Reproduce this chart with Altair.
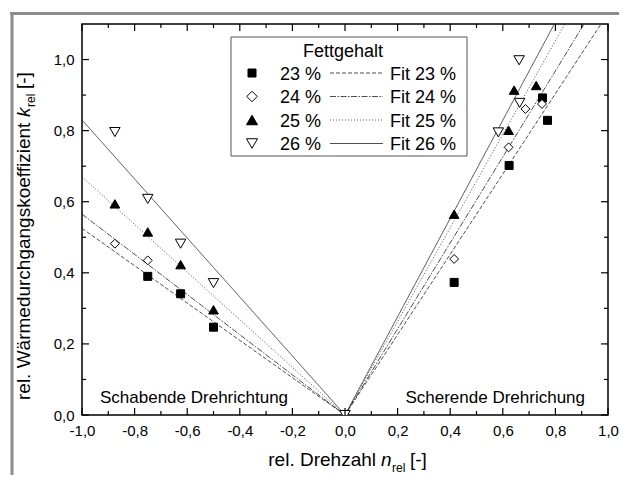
import altair as alt
import pandas as pd

FONT = "Liberation Sans"

series = ["23 %", "24 %", "25 %", "26 %"]
fit_labels = ["Fit 23 %", "Fit 24 %", "Fit 25 %", "Fit 26 %"]
shapes = ["square", "diamond", "triangle-up", "triangle-down"]
fills = ["black", "white", "black", "white"]
sizes = [64, 110, 121, 121]
dashes = [[4, 2], [6, 1.5, 1.5, 1.5], [1, 2], [1, 0]]

# measured points (n_rel, k_rel)
n_23 = [-0.75, -0.625, -0.5, 0.415, 0.624, 0.751, 0.770]
k_23 = [0.390, 0.341, 0.247, 0.373, 0.702, 0.892, 0.829]
n_24 = [-0.875, -0.75, 0.0, 0.415, 0.622, 0.686, 0.749]
k_24 = [0.482, 0.435, 0.0, 0.439, 0.753, 0.861, 0.875]
n_25 = [-0.875, -0.75, -0.625, -0.5, 0.415, 0.622, 0.643, 0.727]
k_25 = [0.594, 0.515, 0.423, 0.296, 0.565, 0.801, 0.914, 0.927]
n_26 = [-0.875, -0.75, -0.625, -0.5, 0.0, 0.583, 0.664, 0.662]
k_26 = [0.796, 0.608, 0.482, 0.371, 0.0, 0.795, 0.878, 0.998]

# fitted lines through origin: k_rel at n_rel = -1 and at n_rel = +1
fit_left = [0.525, 0.565, 0.67, 0.83]
fit_right = [1.13, 1.21, 1.316, 1.382]

x_major = [-1.0, -0.8, -0.6, -0.4, -0.2, 0.0, 0.2, 0.4, 0.6, 0.8, 1.0]
x_minor = [-0.9, -0.7, -0.5, -0.3, -0.1, 0.1, 0.3, 0.5, 0.7, 0.9]
y_major = [0.0, 0.2, 0.4, 0.6, 0.8, 1.0]
y_minor = [0.1, 0.3, 0.5, 0.7, 0.9]

rows = []
for s, ns, ks in zip(series, [n_23, n_24, n_25, n_26], [k_23, k_24, k_25, k_26]):
    for n, k in zip(ns, ks):
        rows.append({"series": s, "n": n, "k": k})
pts = pd.DataFrame(rows)

frows = []
for f, kl, kr in zip(fit_labels, fit_left, fit_right):
    frows += [
        {"fit": f, "side": "L", "n": -1.0, "k": kl},
        {"fit": f, "side": "L", "n": 0.0, "k": 0.0},
        {"fit": f, "side": "R", "n": 0.0, "k": 0.0},
        {"fit": f, "side": "R", "n": 1.0, "k": kr},
    ]
fits_df = pd.DataFrame(frows)

one = pd.DataFrame({"a": [0]})

W, H = 526, 391
xscale = alt.Scale(domain=[-1, 1], nice=False, zero=False)
yscale = alt.Scale(domain=[0, 1.1], nice=False, zero=False)
lab = "(datum.value < 0 ? '-' : '') + replace(format(abs(datum.value), '.1f'), '.', ',')"
xaxis = alt.Axis(values=x_major, labelExpr=lab, title="", domain=False, ticks=False,
                 grid=False, labelPadding=8, labelFontSize=15, labelFont=FONT,
                 labelColor="black", labelFlush=False)
yaxis = alt.Axis(values=y_major, labelExpr=lab, title="", domain=False, ticks=False,
                 grid=False, labelPadding=8, labelFontSize=15, labelFont=FONT,
                 labelColor="black", labelFlush=False)

layers = []

# gray outer frame
layers.append(alt.Chart(one).mark_rule(color="#8c8c8c", strokeWidth=3).encode(
    x=alt.value(-72), x2=alt.value(560), y=alt.value(-10.5)))
layers.append(alt.Chart(one).mark_rule(color="#8c8c8c", strokeWidth=3).encode(
    x=alt.value(-70), y=alt.value(-12), y2=alt.value(470)))

fits = alt.Chart(fits_df).mark_line(clip=True, strokeWidth=0.8, color="#222222").encode(
    x=alt.X("n:Q", scale=xscale, axis=xaxis),
    y=alt.Y("k:Q", scale=yscale, axis=yaxis),
    strokeDash=alt.StrokeDash("fit:N", scale=alt.Scale(domain=fit_labels, range=dashes),
                              legend=None),
    detail="side:N",
)
layers.append(fits)

points = alt.Chart(pts).mark_point(filled=True, stroke="black", strokeWidth=1, opacity=1,
                                   clip=True).encode(
    x=alt.X("n:Q", scale=xscale, axis=xaxis),
    y=alt.Y("k:Q", scale=yscale, axis=yaxis),
    shape=alt.Shape("series:N", scale=alt.Scale(domain=series, range=shapes), legend=None),
    fill=alt.Fill("series:N", scale=alt.Scale(domain=series, range=fills), legend=None),
    size=alt.Size("series:N", scale=alt.Scale(domain=series, range=sizes), legend=None),
)
layers.append(points)

# inward ticks (through the scales)
xt_major = pd.DataFrame({"v": x_major})
xt_minor = pd.DataFrame({"v": x_minor})
yt_major = pd.DataFrame({"v": y_major})
yt_minor = pd.DataFrame({"v": y_minor})
for df, L in [(xt_major, 7), (xt_minor, 4)]:
    layers.append(alt.Chart(df).mark_rule(color="black", strokeWidth=1.2).encode(
        x=alt.X("v:Q", scale=xscale, axis=xaxis), y=alt.value(H), y2=alt.value(H - L)))
    layers.append(alt.Chart(df).mark_rule(color="black", strokeWidth=1.2).encode(
        x=alt.X("v:Q", scale=xscale, axis=xaxis), y=alt.value(0), y2=alt.value(L)))
for df, L in [(yt_major, 7), (yt_minor, 4)]:
    layers.append(alt.Chart(df).mark_rule(color="black", strokeWidth=1.2).encode(
        y=alt.Y("v:Q", scale=yscale, axis=yaxis), x=alt.value(0), x2=alt.value(L)))
    layers.append(alt.Chart(df).mark_rule(color="black", strokeWidth=1.2).encode(
        y=alt.Y("v:Q", scale=yscale, axis=yaxis), x=alt.value(W), x2=alt.value(W - L)))


def txt(s, x, y, size, align="left", style="normal", angle=0, baseline="alphabetic"):
    kw = dict(align=align, baseline=baseline, font=FONT, fontSize=size,
              fontStyle=style, color="black")
    if angle:
        kw["angle"] = angle
    return alt.Chart(one).mark_text(**kw).encode(
        x=alt.value(x), y=alt.value(y), text=alt.value(s))


# legend (box, title, entries)
layers.append(alt.Chart(one).mark_rect(fill="white", stroke="#555555", strokeWidth=1).encode(
    x=alt.value(149), x2=alt.value(385), y=alt.value(13), y2=alt.value(132)))
layers.append(txt("Fettgehalt", 261, 33, 18, align="center"))
row_y = [49, 72.5, 96, 119.5]
for s, f, shp, fl, sz, d, ry in zip(series, fit_labels, shapes, fills, sizes, dashes, row_y):
    layers.append(alt.Chart(one).mark_point(shape=shp, filled=True, fill=fl, stroke="black",
                                            strokeWidth=1, size=sz, opacity=1).encode(
        x=alt.value(170), y=alt.value(ry)))
    layers.append(txt(s, 198, ry + 6.5, 18))
    layers.append(alt.Chart(one).mark_rule(color="#222222", strokeWidth=0.8,
                                           strokeDash=d).encode(
        x=alt.value(248), x2=alt.value(301), y=alt.value(ry)))
    layers.append(txt(f, 308, ry + 6.5, 18))

# annotations
layers.append(txt("Schabende Drehrichtung", 18, 379, 17))
layers.append(txt("Scherende Drehrichung", 503, 379, 17, align="right"))

# x axis title
layers.append(txt("rel. Drehzahl", 294, 442, 19, align="right"))
layers.append(txt("n", 299, 442, 19, style="italic"))
layers.append(txt("rel", 310, 448, 12))
layers.append(txt("[-]", 328, 442, 19))

# y axis title (rotated)
layers.append(txt("rel. Wärmedurchgangskoeffizient", -52, 376, 19, angle=270))
layers.append(txt("k", -52, 93, 19, style="italic", angle=270))
layers.append(txt("rel", -47, 83, 12, angle=270))
layers.append(txt("[-]", -52, 65, 19, angle=270))

chart = alt.layer(*layers).properties(
    width=W, height=H,
    autosize=alt.AutoSizeParams(type="none"),
    padding={"left": 74, "top": 16, "right": 11, "bottom": 60},
).configure_view(stroke="black", strokeWidth=1.5).configure_axis(grid=False)

chart.save("out.html", embed_options={"renderer": "svg", "actions": False})
